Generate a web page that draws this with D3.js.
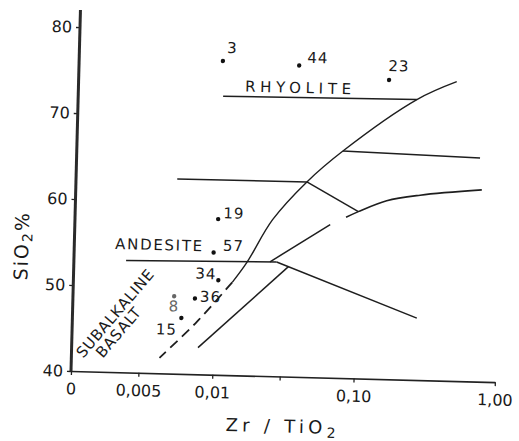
<!DOCTYPE html>
<html>
<head>
<meta charset="utf-8">
<script src="https://cdn.jsdelivr.net/npm/d3@7"></script>
<style>
  body { margin: 0; background: #fff; }
  text { font-family: "DejaVu Sans", sans-serif; fill: #1a1a1a; }
</style>
</head>
<body>
<script>
// samples: id, Zr/TiO2, SiO2 %
var sampleIds = ["3", "44", "23", "19", "57", "34", "36", "8", "15"];
var zrTiO2    = [0.0104, 0.0361, 0.157, 0.0103, 0.0097, 0.0106, 0.0073, 0.0052, 0.0059];
var sio2      = [76.5, 76.2, 74.8, 58.1, 54.2, 51.0, 48.8, 49.0, 46.5];

// field boundaries, [Zr/TiO2, SiO2]
var rhyoliteLine  = [[0.0106, 72.4], [0.249, 72.6]];
var mainCurve     = [[0.473, 74.8], [0.249, 72.6], [0.0763, 66.4], [0.043, 62.7], [0.025, 58.2], [0.0168, 53.2], [0.0133, 50.8]];
var mainCurveDash = [[0.0133, 50.8], [0.0076, 46.1], [0.0042, 41.8]];
var daciteLine    = [[0.0052, 62.65], [0.043, 62.7]];
var daciteToTrach = [[0.043, 62.7], [0.1007, 59.4]];
var comenditeLine = [[0.0763, 66.4], [0.714, 66.0]];
var trachyCurve   = [[0.0826, 58.7], [0.1007, 59.4], [0.159, 60.75], [0.2735, 61.5], [0.745, 62.3]];
var andesiteLine  = [[0.00234, 53.0], [0.0272, 53.3]];
var andesiteUp    = [[0.0244, 53.3], [0.064, 57.8]];
var andesiteDown  = [[0.0272, 53.3], [0.273, 47.2]];
var basaltLine    = [[0.00783, 43.1], [0.033, 52.8]];

// field names
var fieldNames = ["RHYOLITE", "ANDESITE", "SUBALKALINE", "BASALT"];
var fieldX     = [0.0358, 0.00395, 0.0020, 0.00213];
var fieldY     = [73.6, 54.9, 46.8, 44.6];

// axis ticks
var xTicks      = [0.001, 0.003, 0.01, 0.03, 0.1, 1];
var xTickLabels = ["0", "0,005", "0,01", "", "0,10", "1,00"];
var yTicks      = [40, 50, 60, 70, 80];

var w = 519, h = 441;

var svg = d3.select("body").append("svg")
    .attr("width", w)
    .attr("height", h);

// scanned page sits a little crooked
var g = svg.append("g").attr("transform", "rotate(1.5,71,371)");

var x = d3.scaleLog().domain([0.001, 1]).range([71, 495]);
var y = d3.scaleLinear().domain([40, 80]).range([371, 27]);

// x axis
var xg = g.append("g")
    .attr("transform", "translate(0," + y(40) + ")")
    .call(d3.axisBottom(x)
        .tickValues(xTicks)
        .tickFormat(function (d, i) { return xTickLabels[i]; })
        .tickSizeInner(4)
        .tickSizeOuter(0)
        .tickPadding(8));
xg.select(".domain").attr("stroke", "#222").attr("stroke-width", 1.6);
xg.selectAll(".tick line").attr("stroke", "#222").attr("stroke-width", 1.3);
xg.selectAll(".tick text").attr("font-size", 16).attr("fill", "#1a1a1a")
    .style("font-family", "DejaVu Sans");

// y axis
var yg = g.append("g")
    .attr("transform", "translate(" + x(0.001) + ",0)")
    .call(d3.axisLeft(y)
        .tickValues(yTicks)
        .tickSizeInner(4)
        .tickSizeOuter(0)
        .tickPadding(4));
yg.select(".domain").remove();
yg.selectAll(".tick line").attr("stroke", "#222").attr("stroke-width", 1.3);
yg.selectAll(".tick text").attr("font-size", 16).attr("fill", "#1a1a1a")
    .style("font-family", "DejaVu Sans");
g.append("line")
    .attr("x1", x(0.001)).attr("x2", x(0.001))
    .attr("y1", y(40)).attr("y2", y(82))
    .attr("stroke", "#2a2a2a")
    .attr("stroke-width", 3);

// axis titles
g.append("text")
    .attr("x", 282).attr("y", 427)
    .attr("text-anchor", "middle")
    .attr("font-size", 18)
    .attr("textLength", 110)
    .attr("lengthAdjust", "spacing")
    .html('Zr / TiO<tspan baseline-shift="-25%" font-size="14">2</tspan>');

g.append("text")
    .attr("transform", "translate(25,247) rotate(-90)")
    .attr("text-anchor", "middle")
    .attr("font-size", 19)
    .attr("letter-spacing", 2)
    .html('SiO<tspan baseline-shift="-25%" font-size="14">2</tspan>%');

// boundaries
var straight = d3.line()
    .x(function (d) { return x(d[0]); })
    .y(function (d) { return y(d[1]); });
var smooth = d3.line()
    .x(function (d) { return x(d[0]); })
    .y(function (d) { return y(d[1]); })
    .curve(d3.curveCatmullRom.alpha(0.5));

var solidLines = [rhyoliteLine, daciteLine, daciteToTrach, comenditeLine,
                  andesiteLine, andesiteUp, andesiteDown, basaltLine];
g.selectAll("path.bound")
    .data(solidLines)
    .enter()
    .append("path")
    .attr("class", "bound")
    .attr("d", straight)
    .attr("fill", "none")
    .attr("stroke", "#1e1e1e")
    .attr("stroke-width", 1.5);

g.append("path")
    .datum(mainCurve)
    .attr("d", smooth)
    .attr("fill", "none")
    .attr("stroke", "#1e1e1e")
    .attr("stroke-width", 1.4);

g.append("path")
    .datum(trachyCurve)
    .attr("d", smooth)
    .attr("fill", "none")
    .attr("stroke", "#1e1e1e")
    .attr("stroke-width", 1.6);

g.append("path")
    .datum(mainCurveDash)
    .attr("d", smooth)
    .attr("fill", "none")
    .attr("stroke", "#1e1e1e")
    .attr("stroke-width", 1.8)
    .attr("stroke-dasharray", "10,6");

// field names
var fieldStyle = {
    "RHYOLITE":    { size: 15, len: 106, angle: 0 },
    "ANDESITE":    { size: 15, len: 87, angle: 0 },
    "SUBALKALINE": { size: 15, len: 110, angle: -51 },
    "BASALT":      { size: 15, len: 60, angle: -51 }
};
g.selectAll("text.field")
    .data(fieldNames)
    .enter()
    .append("text")
    .attr("class", "field")
    .attr("transform", function (d, i) {
        return "translate(" + x(fieldX[i]) + "," + y(fieldY[i]) + ") rotate(" + fieldStyle[d].angle + ")";
    })
    .attr("text-anchor", "middle")
    .attr("dominant-baseline", "central")
    .attr("font-size", function (d) { return fieldStyle[d].size; })
    .attr("textLength", function (d) { return fieldStyle[d].len; })
    .attr("lengthAdjust", "spacing")
    .text(function (d) { return d; });

// samples
var labelPos = {
    "3":  ["start", 4, -8],
    "44": ["start", 8, -3],
    "23": ["start", -1, -9],
    "19": ["start", 5, -1],
    "57": ["start", 9, -2],
    "34": ["end", -2, -1],
    "36": ["start", 5, 3],
    "8":  ["middle", 0, 15],
    "15": ["end", -4, 17]
};

g.selectAll("circle.sample")
    .data(sampleIds)
    .enter()
    .append("circle")
    .attr("class", "sample")
    .attr("cx", function (d, i) { return x(zrTiO2[i]); })
    .attr("cy", function (d, i) { return y(sio2[i]); })
    .attr("r", 2.2)
    .attr("fill", function (d) { return d === "8" ? "#666" : "#111"; });

g.selectAll("text.sample")
    .data(sampleIds)
    .enter()
    .append("text")
    .attr("class", "sample")
    .attr("x", function (d, i) { return x(zrTiO2[i]) + labelPos[d][1]; })
    .attr("y", function (d, i) { return y(sio2[i]) + labelPos[d][2]; })
    .attr("text-anchor", function (d) { return labelPos[d][0]; })
    .attr("font-size", 15)
    .attr("letter-spacing", 1)
    .style("fill", function (d) { return d === "8" ? "#666" : "#1a1a1a"; })
    .text(function (d) { return d; });
</script>
</body>
</html>
